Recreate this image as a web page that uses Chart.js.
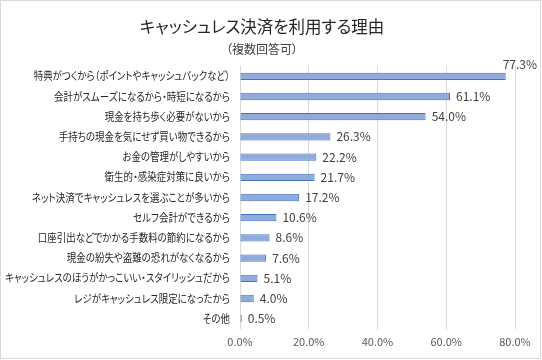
<!DOCTYPE html>
<html><head><meta charset="utf-8">
<script src="https://cdn.jsdelivr.net/npm/chart.js@4"></script>
<style>
html,body{margin:0;padding:0;background:#fff;}
#wrap{width:542px;height:360px;position:relative;}
canvas{font-feature-settings:"palt";}
</style></head>
<body><div id="wrap"><canvas id="c" width="542" height="360"></canvas></div>
<script>
const titleText = 'キャッシュレス決済を利用する理由';
const subtitleText = '（複数回答可）';
const categories = [
  '特典がつくから（ポイントやキャッシュバックなど）',
  '会計がスムーズになるから・時短になるから',
  '現金を持ち歩く必要がないから',
  '手持ちの現金を気にせず買い物できるから',
  'お金の管理がしやすいから',
  '衛生的・感染症対策に良いから',
  'ネット決済でキャッシュレスを選ぶことが多いから',
  'セルフ会計ができるから',
  '口座引出などでかかる手数料の節約になるから',
  '現金の紛失や盗難の恐れがなくなるから',
  'キャッシュレスのほうがかっこいい・スタイリッシュだから',
  'レジがキャッシュレス限定になったから',
  'その他'
];
const values = [77.3, 61.1, 54.0, 26.3, 22.2, 21.7, 17.2, 10.6, 8.6, 7.6, 5.1, 4.0, 0.5];
const xTicks = [0, 20, 40, 60, 80];

const JP = '"Noto Sans CJK JP", "Noto Sans", sans-serif';
const LABEL_SIZE = 11;
const LABEL_SPACE = 225;
const TICK_PAD = 10;

const valueLabels = {
  id: 'valueLabels',
  afterDatasetsDraw(chart){
    const ctx = chart.ctx;
    const meta = chart.getDatasetMeta(0);
    ctx.save();
    ctx.font = '12px ' + JP;
    ctx.fillStyle = '#404040';
    ctx.textBaseline = 'middle';
    ctx.textAlign = 'left';
    meta.data.forEach((bar, i) => {
      const txt = values[i].toFixed(1) + '%';
      const w = ctx.measureText(txt).width;
      let x = bar.x + 6, y = bar.y;
      if (x + w > chart.width - 4) { x = chart.width - 5 - w; y = bar.y - 12; }
      ctx.fillText(txt, x, y);
    });
    ctx.restore();
  }
};

// y tick labels are drawn in a later layer (ticks.z = 1); condense them horizontally
const condense = {
  id: 'condense',
  afterLayout(chart){
    const ys = chart.scales.y;
    if (ys) ys.left = -600; // widen label clip region
  },
  afterDatasetsDraw(chart){
    const ys = chart.scales.y;
    const ctx = chart.ctx;
    ctx.save();
    ctx.font = LABEL_SIZE + 'px ' + JP;
    let maxW = 0;
    categories.forEach(l => { maxW = Math.max(maxW, ctx.measureText(l).width); });
    ctx.restore();
    const s = Math.min(1, LABEL_SPACE / maxW);
    const xr = ys.right - TICK_PAD;
    ctx.save();
    ctx.translate(xr, 0); ctx.scale(s, 1); ctx.translate(-xr, 0);
  },
  afterDraw(chart){
    chart.ctx.restore();
  }
};

const frame = {
  id: 'frame',
  afterDraw(chart){
    const ctx = chart.ctx;
    ctx.save();
    ctx.strokeStyle = '#d9d9d9';
    ctx.lineWidth = 1;
    ctx.strokeRect(0.5, 0.5, chart.width - 2, chart.height - 2);
    ctx.restore();
  }
};

new Chart(document.getElementById('c'), {
  type: 'bar',
  data: {
    labels: categories,
    datasets: [{
      data: values,
      backgroundColor: '#8FAADC',
      borderColor: '#4472C4',
      borderWidth: 1,
      borderSkipped: false,
      barPercentage: 0.36,
      categoryPercentage: 1
    }]
  },
  options: {
    indexAxis: 'y',
    responsive: false,
    animation: false,
    layout: { padding: { left: 9, right: 27, top: 4, bottom: 6 } },
    plugins: {
      legend: { display: false },
      tooltip: { enabled: false },
      title: { display: true, text: titleText, color: '#262626',
        font: { family: JP, size: 16.5, weight: 'normal' }, padding: { top: 13, bottom: 5 } },
      subtitle: { display: true, text: subtitleText, color: '#404040',
        font: { family: JP, size: 12, weight: 'normal' }, padding: { top: 0, bottom: 10 } }
    },
    scales: {
      x: {
        min: 0, max: 80,
        afterBuildTicks(scale){ scale.ticks = xTicks.map(v => ({ value: v })); },
        ticks: { color: '#595959', font: { family: JP, size: 11 }, padding: 6,
          callback: v => v.toFixed(1) + '%' },
        grid: { color: '#d9d9d9', drawTicks: false },
        border: { display: false }
      },
      y: {
        afterFit(scale){ scale.width = 231; },
        ticks: { color: '#262626', font: { family: JP, size: LABEL_SIZE }, padding: TICK_PAD, autoSkip: false, z: 1 },
        grid: { display: false, drawTicks: false },
        border: { display: true, color: '#d9d9d9' }
      }
    }
  },
  plugins: [valueLabels, condense, frame]
});
</script></body></html>
